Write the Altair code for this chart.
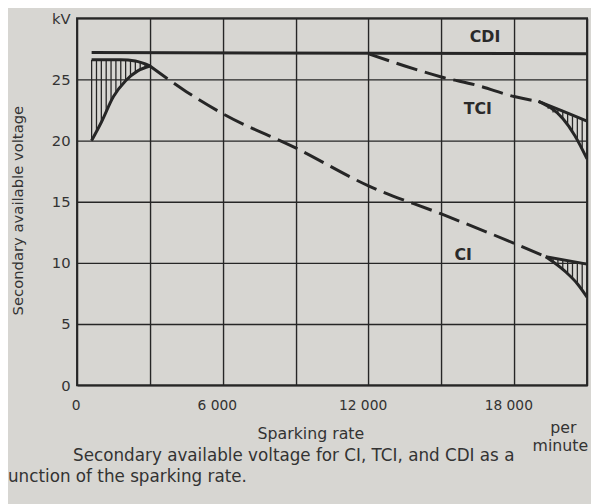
import altair as alt
import pandas as pd

FONT = "DejaVu Sans"
INK = "#262626"

# ---- curve data (sparking rate per minute, kV) ----
cdi_x = [600, 21000]
cdi_y = [27.2, 27.1]

ci_low_lower_x = [600, 1000, 1500, 2000, 2500, 3000]
ci_low_lower_y = [20.0, 21.5, 23.6, 24.9, 25.7, 26.1]
ci_low_upper_x = [600, 1800, 2400, 3000]
ci_low_upper_y = [26.6, 26.6, 26.5, 26.1]

ci_main_x = [3000, 4500, 6000, 9000, 12000, 15000, 18000, 19300]
ci_main_y = [26.1, 24.0, 22.2, 19.4, 16.3, 14.0, 11.6, 10.5]
ci_high_upper_x = [19300, 21000]
ci_high_upper_y = [10.5, 9.9]
ci_high_lower_x = [19300, 20100, 20600, 21000]
ci_high_lower_y = [10.5, 9.3, 8.3, 7.2]

tci_main_x = [12000, 13500, 15000, 16500, 18000, 19000]
tci_main_y = [27.1, 26.1, 25.2, 24.5, 23.6, 23.2]
tci_high_upper_x = [19000, 20000, 21000]
tci_high_upper_y = [23.2, 22.4, 21.6]
tci_high_lower_x = [19000, 20000, 20500, 21000]
tci_high_lower_y = [23.2, 21.8, 20.4, 18.5]

# ---- hatching (vertical strokes between boundaries) ----
hatch_low_x = [600, 800, 1000, 1200, 1400, 1600, 1800, 2000, 2200, 2400, 2600, 2800]
hatch_low_lo = [20.0, 20.8, 21.5, 22.4, 23.2, 23.9, 24.4, 24.9, 25.2, 25.5, 25.8, 26.0]
hatch_low_hi = [26.6, 26.6, 26.6, 26.6, 26.6, 26.6, 26.6, 26.6, 26.6, 26.5, 26.4, 26.3]

hatch_tci_x = [19400, 19600, 19800, 20000, 20200, 20400, 20600, 20800, 21000]
hatch_tci_lo = [22.6, 22.3, 22.1, 21.8, 21.3, 20.8, 20.1, 19.4, 18.5]
hatch_tci_hi = [22.9, 22.7, 22.5, 22.4, 22.2, 22.0, 21.9, 21.7, 21.6]

hatch_ci_x = [19600, 19800, 20000, 20200, 20400, 20600, 20800, 21000]
hatch_ci_lo = [10.1, 9.8, 9.4, 9.1, 8.7, 8.3, 7.8, 7.2]
hatch_ci_hi = [10.4, 10.3, 10.2, 10.2, 10.1, 10.0, 10.0, 9.9]

# ---- labels on curves ----
lab_text = ["CDI", "TCI", "CI"]
lab_x = [16800, 16500, 15900]
lab_y = [28.5, 22.6, 10.6]

x_ticks = [0, 3000, 6000, 9000, 12000, 15000, 18000, 21000]
y_ticks = [0, 5, 10, 15, 20, 25, 30]


def seg(name, xs, ys):
    return pd.DataFrame({"seg": name, "x": xs, "y": ys, "i": range(len(xs))})


solid = pd.concat([
    seg("cdi", cdi_x, cdi_y),
    seg("cil_lo", ci_low_lower_x, ci_low_lower_y),
    seg("cil_hi", ci_low_upper_x, ci_low_upper_y),
    seg("cih_hi", ci_high_upper_x, ci_high_upper_y),
    seg("cih_lo", ci_high_lower_x, ci_high_lower_y),
    seg("tcih_hi", tci_high_upper_x, tci_high_upper_y),
    seg("tcih_lo", tci_high_lower_x, tci_high_lower_y),
])
dashed = pd.concat([
    seg("ci", ci_main_x, ci_main_y),
    seg("tci", tci_main_x, tci_main_y),
])
hatch = pd.concat([
    pd.DataFrame({"x": hatch_low_x, "lo": hatch_low_lo, "hi": hatch_low_hi}),
    pd.DataFrame({"x": hatch_tci_x, "lo": hatch_tci_lo, "hi": hatch_tci_hi}),
    pd.DataFrame({"x": hatch_ci_x, "lo": hatch_ci_lo, "hi": hatch_ci_hi}),
])
labels = pd.DataFrame({"t": lab_text, "x": lab_x, "y": lab_y})

xs = alt.Scale(domain=[0, 21000], nice=False, zero=False)
ys = alt.Scale(domain=[0, 30], nice=False)

x_axis = alt.Axis(
    values=x_ticks, grid=True, ticks=False, domain=False, title=None,
    labelExpr="(datum.value % 6000 == 0 && datum.value < 21000) ? replace(format(datum.value, ','), ',', ' ') : ''",
    labelFontSize=14, labelColor="#333", labelFont=FONT, labelPadding=14, labelOffset=-6,
    gridColor=INK, gridWidth=1.4, gridOpacity=1,
)
y_axis = alt.Axis(
    values=y_ticks, grid=True, ticks=False, domain=False, title=None,
    labelExpr="datum.value == 30 ? 'kV' : datum.label",
    labelFontSize=15, labelColor="#333", labelFont=FONT, labelPadding=7,
    gridColor=INK, gridWidth=1.4, gridOpacity=1,
)

solid_layer = alt.Chart(solid).mark_line(
    color=INK, strokeWidth=3, interpolate="monotone", clip=True
).encode(
    x=alt.X("x:Q", scale=xs, axis=x_axis),
    y=alt.Y("y:Q", scale=ys, axis=y_axis),
    detail="seg:N",
    order="i:Q",
)
dashed_layer = alt.Chart(dashed).mark_line(
    color=INK, strokeWidth=3, strokeDash=[22, 8], interpolate="monotone"
).encode(
    x=alt.X("x:Q", scale=xs), y=alt.Y("y:Q", scale=ys), detail="seg:N", order="i:Q"
)
hatch_layer = alt.Chart(hatch).mark_rule(color=INK, strokeWidth=1.3).encode(
    x=alt.X("x:Q", scale=xs), y=alt.Y("lo:Q", scale=ys), y2="hi:Q"
)
label_layer = alt.Chart(labels).mark_text(
    font=FONT, fontSize=16, fontWeight="bold", color="#2a2a2a"
).encode(
    x=alt.X("x:Q", scale=xs), y=alt.Y("y:Q", scale=ys), text="t:N"
)

def txt(t, x, y, size=15, align="center", angle=0):
    return alt.Chart(pd.DataFrame({"t": [t]})).mark_text(
        font=FONT, fontSize=size, color="#333", align=align, angle=angle, baseline="middle"
    ).encode(x=alt.value(x), y=alt.value(y), text="t:N")

texts = [
    txt("Secondary available voltage", -60, 195, size=15, angle=270),
    txt("Sparking rate", 237, 422, size=16),
    txt("per", 493, 415, size=16),
    txt("minute", 490, 434, size=16),
    txt("Secondary available voltage for CI, TCI, and CDI as a", -4, 444, size=17, align="left"),
    txt("unction of the sparking rate.", -70, 465, size=17, align="left"),
]

chart = alt.layer(hatch_layer, solid_layer, dashed_layer, label_layer, *texts).properties(
    width=517, height=372,
    autosize=alt.AutoSizeParams(type="none"),
    padding={"left": 70, "top": 7, "right": 4, "bottom": 117},
    background="#d7d6d2",
).configure_view(stroke=INK, strokeWidth=2)

chart.save("out.html", embed_options={"renderer": "svg", "actions": False})
